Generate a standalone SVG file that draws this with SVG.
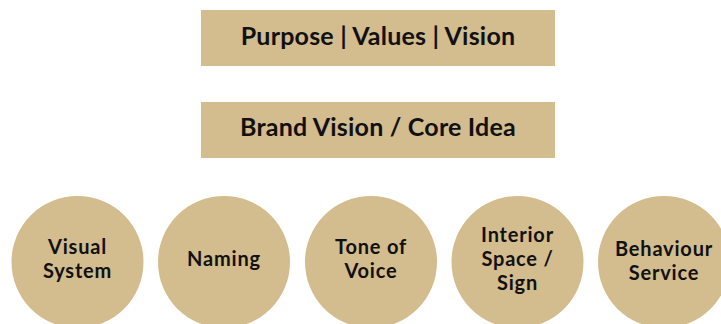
<svg xmlns="http://www.w3.org/2000/svg" width="721" height="324" viewBox="0 0 721 324">
<style>
.box{fill:#D3BC8D}
.t{font-family:Lato,"Noto Sans","Liberation Sans",sans-serif;font-weight:bold;fill:#111;text-anchor:middle}
.big{font-size:25px;letter-spacing:0.2px}
.sm{font-size:20px;letter-spacing:0.8px}
</style>
<rect width="721" height="324" fill="#fff"/>
<g id="purpose">
<rect class="box" x="201" y="10" width="354" height="56"/>
<text class="t big" x="378" y="45">Purpose | Values | Vision</text>
</g>
<g id="brand-vision">
<rect class="box" x="201" y="102" width="354" height="56"/>
<text class="t big" x="378" y="136">Brand Vision / Core Idea</text>
</g>
<g id="connectors"></g>
<g id="visual-system">
<circle class="box" cx="77.5" cy="262" r="66"/>
<text class="t sm" x="77.5" y="254">Visual</text>
<text class="t sm" x="77.5" y="278">System</text>
</g>
<g id="naming">
<circle class="box" cx="224" cy="262" r="66"/>
<text class="t sm" x="224" y="266">Naming</text>
</g>
<g id="tone-of-voice">
<circle class="box" cx="371" cy="262" r="66"/>
<text class="t sm" x="371" y="254">Tone of</text>
<text class="t sm" x="371" y="278">Voice</text>
</g>
<g id="interior-space">
<circle class="box" cx="517.5" cy="262" r="66"/>
<text class="t sm" x="517.5" y="242">Interior</text>
<text class="t sm" x="517.5" y="266">Space /</text>
<text class="t sm" x="517.5" y="290">Sign</text>
</g>
<g id="behaviour-service">
<circle class="box" cx="664" cy="262" r="66"/>
<text class="t sm" x="664" y="256">Behaviour</text>
<text class="t sm" x="664" y="280">Service</text>
</g>
</svg>
